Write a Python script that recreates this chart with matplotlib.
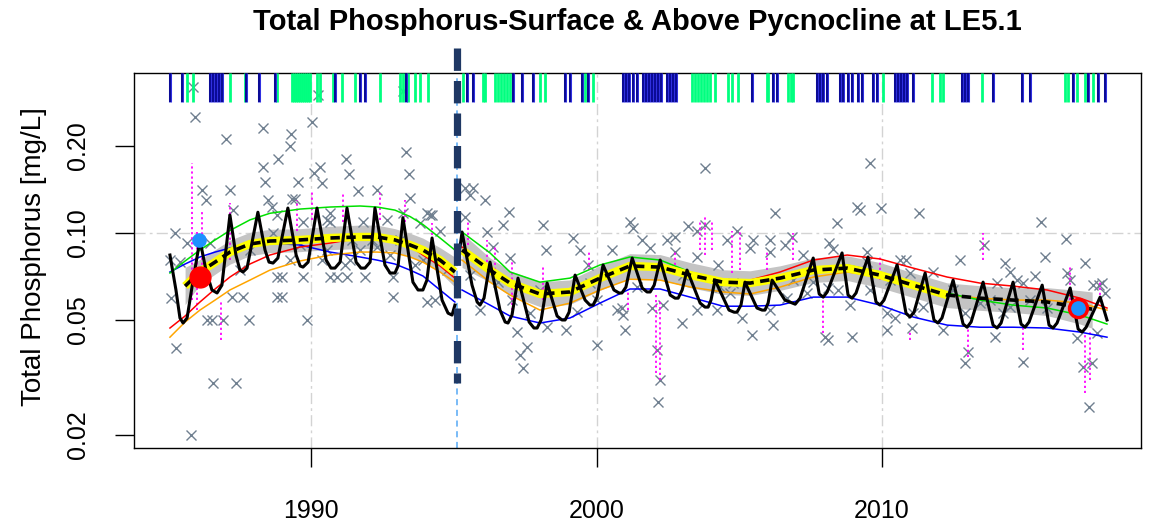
import matplotlib
matplotlib.use("Agg")
import matplotlib.pyplot as plt
from matplotlib.ticker import NullLocator

plt.rcParams['font.family'] = ['Liberation Sans', 'DejaVu Sans']

# ---- Data ----
title = "Total Phosphorus-Surface & Above Pycnocline at LE5.1"
y_label = "Total Phosphorus [mg/L]"
x_ticks = [1990, 2000, 2010]
y_ticks = [0.02, 0.05, 0.10, 0.20]
y_tick_labels = ["0.02", "0.05", "0.10", "0.20"]
x_range = (1983.80, 2019.07)
y_range = (0.01803, 0.3578)

break_year = 1995.11          # method change (thick dashed line)
break_span = (0.0302, 0.437)  # extent of the thick dashed line

# sample dates shown as rug at the top
rug_green = [1985.66, 1985.87, 1987.16, 1987.69, 1988.81, 1989.33, 1989.40, 1989.47,
             1989.54, 1989.61, 1989.68, 1989.75, 1989.82, 1989.89, 1989.96, 1990.21,
             1990.32, 1990.77, 1991.09, 1991.54, 1992.42, 1993.12, 1993.22, 1993.40,
             1993.64, 1993.82, 1994.10, 1995.32, 1996.02, 1996.09, 1996.44, 1996.55,
             1996.65, 1996.76, 1996.87, 1996.97, 1998.02, 1998.20, 1999.60, 1999.88,
             2003.35, 2003.45, 2003.56, 2003.66, 2003.77, 2003.87, 2003.98, 2004.15,
             2004.61, 2004.75, 2004.96, 2005.97, 2006.01, 2006.71, 2006.81, 2006.88,
             2010.04, 2011.75, 2012.03, 2012.14, 2013.50, 2016.41, 2016.52, 2016.83,
             2017.11, 2017.39]
rug_navy = [1985.06, 1985.48, 1986.46, 1986.57, 1986.67, 1986.78, 1986.88, 1987.72,
            1988.18, 1988.74, 1990.84, 1991.72, 1991.89, 1993.33, 1995.46, 1995.67,
            1997.08, 1997.39, 1997.78, 1998.90, 1999.07, 1999.49, 1999.70, 2000.93,
            2001.03, 2001.14, 2001.28, 2001.42, 2001.63, 2001.73, 2001.84, 2001.94,
            2002.05, 2002.15, 2002.26, 2002.47, 2002.57, 2002.68, 2002.78, 2005.45,
            2006.18, 2006.32, 2007.72, 2007.83, 2007.93, 2008.07, 2008.53, 2008.63,
            2008.81, 2008.95, 2009.16, 2009.30, 2009.69, 2009.82, 2010.46, 2010.56,
            2010.67, 2010.77, 2010.88, 2011.09, 2012.80, 2012.91, 2013.01, 2013.89,
            2014.90, 2015.18, 2016.69, 2017.22, 2017.57, 2017.81]

# observations (x markers)
obs_year = [1985.87, 1985.94, 1987.02, 1988.32, 1989.30, 1989.26, 1990.04, 1990.25, 1988.84, 1988.32,
            1988.39, 1989.55, 1990.11, 1990.32, 1990.39, 1991.23, 1991.33, 1991.65, 1992.31, 1993.33,
            1993.43, 1993.22, 1993.47, 1994.17, 1986.19, 1986.33, 1987.16, 1987.27, 1988.50, 1988.64,
            1989.34, 1989.44, 1985.24, 1985.66, 1989.72, 1990.67, 1991.82, 1992.66, 1993.82, 1988.67,
            1986.46, 1990.56, 1992.31, 1985.10, 1985.27, 1986.57, 1987.37, 1985.80, 1986.36, 1986.53,
            1986.92, 1987.83, 1989.86, 1988.81, 1988.98, 1989.72, 1990.67, 1990.91, 1991.26, 1991.89,
            1992.87, 1987.23, 1987.62, 1988.81, 1988.98, 1992.87, 1994.06, 1985.41, 1985.06, 1990.39,
            1991.37, 1991.44, 1992.14, 1993.92, 1994.06, 1993.22, 1990.56, 1990.67, 1988.81, 1994.52,
            1994.76, 1994.34, 1994.24, 1987.86, 1987.51, 1989.62, 1991.72, 1992.77, 1993.64, 1989.26,
            1991.19, 1993.12,
            1995.39, 1995.67, 1995.57, 1996.09, 1996.93, 1996.72, 1998.12, 1996.16, 1995.39, 1998.23,
            1999.17, 1999.42, 2000.54, 2001.17, 2001.27, 2001.59, 2001.87, 2002.46, 2002.75, 2003.20,
            2003.52, 2003.80, 2003.80, 2004.57, 2005.48, 2006.08, 2006.25, 2004.92, 1996.37, 1996.97,
            1996.55, 1995.92, 1997.04, 1997.22, 1997.57, 1997.32, 1997.43, 1998.27, 1998.93, 2000.01,
            2000.01, 2000.89, 2000.92, 2000.99, 2001.94, 2002.32, 2002.11, 2002.22, 2002.15, 2002.99,
            2004.21, 2005.09, 2005.44, 2006.18, 2004.25, 2003.52, 2003.03, 2002.75, 2004.78, 2005.38,
            2006.08, 1998.02, 1999.70, 2009.58, 2009.13, 2009.23, 2009.97, 2011.30, 2008.42, 2015.57,
            2016.45, 2006.85, 2008.14, 2008.28, 2006.60, 2009.47, 2013.57, 2015.71, 2007.23, 2012.73,
            2014.30, 2017.11, 2014.48, 2014.73, 2015.36, 2011.79, 2008.10, 2008.45, 2009.58, 2010.28,
            2010.63, 2010.84, 2008.87, 2006.67, 2007.37, 2010.17, 2010.45, 2011.05, 2011.09, 2011.44,
            2012.14, 2012.91, 2014.24, 2014.48, 2013.43, 2013.78, 2015.18, 2015.78, 2016.58, 2017.70,
            2017.81, 2017.59, 2008.00, 2008.10, 2008.94, 2010.17, 2013.01, 2012.91, 2013.95, 2014.93,
            2016.82, 2017.03, 2017.34, 2017.24, 2017.52, 2000.72, 1999.31, 1997.67, 1999.77, 2003.52,
            2004.67, 2001.42, 2006.08, 2004.32, 2006.88, 2007.58, 2009.47, 2010.98, 2012.48, 2014.02,
            2014.93, 2017.38, 2016.48, 1995.57]
obs_tp = [0.320, 0.252, 0.211, 0.231, 0.220, 0.200, 0.242, 0.300, 0.180, 0.169,
          0.150, 0.150, 0.161, 0.169, 0.149, 0.180, 0.160, 0.140, 0.141, 0.191,
          0.160, 0.310, 0.132, 0.115, 0.141, 0.130, 0.141, 0.120, 0.130, 0.123,
          0.131, 0.131, 0.100, 0.0923, 0.109, 0.109, 0.109, 0.111, 0.108, 0.100,
          0.0923, 0.0873, 0.0894, 0.0595, 0.0400, 0.0302, 0.0302, 0.0200, 0.0500, 0.0500,
          0.0500, 0.0500, 0.0500, 0.0704, 0.0704, 0.0704, 0.0704, 0.0704, 0.0704, 0.0704,
          0.0704, 0.0600, 0.0600, 0.0600, 0.0600, 0.0600, 0.0577, 0.0793, 0.0806, 0.0806,
          0.0806, 0.0946, 0.0946, 0.0806, 0.117, 0.117, 0.111, 0.117, 0.115, 0.102,
          0.0744, 0.0586, 0.115, 0.0873, 0.0744, 0.0909, 0.0873, 0.0839, 0.0775, 0.0806,
          0.0775, 0.0946,
          0.143, 0.143, 0.135, 0.130, 0.118, 0.107, 0.107, 0.101, 0.114, 0.0873,
          0.0961, 0.0873, 0.0873, 0.109, 0.104, 0.0946, 0.0887, 0.0946, 0.0969, 0.106,
          0.102, 0.107, 0.168, 0.0946, 0.0946, 0.0946, 0.117, 0.102, 0.0894, 0.0819,
          0.0676, 0.0541, 0.0586, 0.0454, 0.0403, 0.0378, 0.0341, 0.0472, 0.0461, 0.0586,
          0.0409, 0.0550, 0.0520, 0.0461, 0.0550, 0.0563, 0.0393, 0.0310, 0.0260, 0.0488,
          0.0541, 0.0508, 0.0443, 0.0480, 0.0775, 0.0826, 0.0715, 0.0859, 0.0671, 0.0887,
          0.0859, 0.0635, 0.0775, 0.175, 0.123, 0.120, 0.122, 0.117, 0.108, 0.109,
          0.0953, 0.0969, 0.0923, 0.0880, 0.0909, 0.0859, 0.0909, 0.0826, 0.0839, 0.0806,
          0.0787, 0.0787, 0.0733, 0.0687, 0.0710, 0.0733, 0.0645, 0.0635, 0.0635, 0.0687,
          0.0806, 0.0806, 0.0563, 0.0595, 0.0620, 0.0528, 0.0508, 0.0469, 0.0528, 0.0554,
          0.0461, 0.0528, 0.0528, 0.0554, 0.0572, 0.0586, 0.0586, 0.0550, 0.0687, 0.0671,
          0.0620, 0.0660, 0.0436, 0.0426, 0.0436, 0.0461, 0.0387, 0.0355, 0.0436, 0.0357,
          0.0433, 0.0343, 0.0355, 0.0250, 0.0450, 0.0541, 0.0532, 0.0528, 0.0671, 0.0541,
          0.0620, 0.0650, 0.0541, 0.0650, 0.0687, 0.0676, 0.0793, 0.0727, 0.0635, 0.0671,
          0.0671, 0.0660, 0.0727, 0.0715]

# magenta dotted spikes: year, low, high
spike_year = [1985.83, 1986.01, 1986.18, 1986.85, 1987.16, 1989.51, 1990.04, 1991.12, 1992.42,
              1993.29, 1994.24, 1995.50, 1996.17, 1996.45, 1997.04, 1998.13, 1999.74, 2001.10,
              2002.09, 2002.23, 2002.75, 2003.63, 2003.80, 2004.05, 2004.75, 2005.03, 2005.97,
              2006.88, 2007.93, 2009.93, 2010.98, 2013.01, 2013.54, 2014.94, 2016.59, 2017.11,
              2017.29, 2017.64]
spike_lo = [0.0586, 0.0541, 0.0687, 0.0426, 0.0806, 0.102, 0.111, 0.109, 0.111,
            0.109, 0.0946, 0.0909, 0.0762, 0.0715, 0.0541, 0.0586, 0.0744, 0.0541,
            0.0327, 0.0310, 0.0744, 0.0873, 0.0839, 0.0873, 0.0727, 0.0744, 0.0744,
            0.0806, 0.0450, 0.0687, 0.0426, 0.0372, 0.0806, 0.0393, 0.0586, 0.0279,
            0.0310, 0.0586]
spike_hi = [0.175, 0.102, 0.120, 0.0586, 0.127, 0.130, 0.141, 0.138, 0.138,
            0.130, 0.108, 0.111, 0.0946, 0.0909, 0.0806, 0.0762, 0.0873, 0.0635,
            0.0620, 0.0586, 0.0873, 0.111, 0.114, 0.109, 0.102, 0.102, 0.0873,
            0.100, 0.0586, 0.0839, 0.0461, 0.0472, 0.100, 0.0472, 0.0762, 0.0450,
            0.0461, 0.0687]

# trend lines, before the break
pre_years = [1985.06, 1985.59, 1986.11, 1986.64, 1987.16, 1987.86, 1988.56, 1989.61,
             1990.67, 1991.72, 1992.31, 1992.94, 1993.47, 1993.92, 1994.52, 1995.04]
pre_green = [0.0727, 0.0800, 0.0873, 0.0946, 0.102, 0.111, 0.117, 0.121,
             0.123, 0.124, 0.123, 0.120, 0.114, 0.107, 0.0961, 0.0873]
pre_red = [0.0469, 0.0516, 0.0577, 0.0640, 0.0704, 0.0781, 0.0839, 0.0894,
           0.0923, 0.0961, 0.0976, 0.0946, 0.0901, 0.0839, 0.0769, 0.0698]
pre_orange = [0.0436, 0.0492, 0.0541, 0.0586, 0.0635, 0.0687, 0.0744, 0.0800,
              0.0839, 0.0859, 0.0859, 0.0853, 0.0826, 0.0793, 0.0733, 0.0676]
pre_blue = [0.0733, 0.0781, 0.0826, 0.0859, 0.0887, 0.0916, 0.0923, 0.0909,
            0.0859, 0.0826, 0.0806, 0.0781, 0.0744, 0.0710, 0.0635, 0.0577]
pre_mean = [None, 0.0655, 0.0733, 0.0793, 0.0859, 0.0916, 0.0938, 0.0946,
            0.0961, 0.0969, 0.0969, 0.0946, 0.0909, 0.0873, 0.0806, 0.0733]
pre_upper = [None, 0.0760, 0.0810, 0.0875, 0.0945, 0.1005, 0.1030, 0.1035,
             0.1055, 0.1065, 0.1065, 0.1035, 0.0998, 0.0960, 0.0890, 0.0825]
pre_lower = [None, 0.0565, 0.0662, 0.0720, 0.0780, 0.0835, 0.0855, 0.0862,
             0.0876, 0.0883, 0.0883, 0.0862, 0.0828, 0.0795, 0.0730, 0.0650]

# trend lines, after the break
post_years = [1995.29, 1996.27, 1996.97, 1998.02, 1999.07, 2000.12, 2001.17, 2002.23,
              2003.28, 2004.43, 2005.38, 2006.43, 2007.59, 2008.78, 2009.93, 2011.09,
              2012.28, 2013.43, 2014.59, 2015.78, 2016.94, 2017.88]
post_green = [0.1008, 0.0853, 0.0733, 0.0676, 0.0698, 0.0775, 0.0826, 0.0806, 0.0733, 0.0687, 0.0687,
              0.0698, 0.0756, 0.0775, 0.0733, 0.0671, 0.0620, 0.0586, 0.0563, 0.0550, 0.0520, 0.0484]
post_red = [0.0894, 0.0762, 0.0660, 0.0600, 0.0615, 0.0687, 0.0775, 0.0762, 0.0727, 0.0676, 0.0687,
            0.0733, 0.0806, 0.0839, 0.0813, 0.0756, 0.0704, 0.0671, 0.0655, 0.0635, 0.0595, 0.0550]
post_orange = [0.0806, 0.0676, 0.0610, 0.0541, 0.0572, 0.0635, 0.0692, 0.0687, 0.0650, 0.0625, 0.0615,
               0.0650, 0.0704, 0.0733, 0.0704, 0.0650, 0.0610, 0.0595, 0.0586, 0.0586, 0.0572, 0.0541]
post_blue = [0.0635, 0.0563, 0.0516, 0.0488, 0.0508, 0.0572, 0.0640, 0.0640, 0.0600, 0.0558, 0.0558,
             0.0563, 0.0600, 0.0600, 0.0563, 0.0512, 0.0480, 0.0472, 0.0472, 0.0469, 0.0454, 0.0436]
post_mean_years = post_years[:-1] + [2017.36]
post_mean = [0.0873, 0.0744, 0.0671, 0.0615, 0.0625, 0.0698, 0.0769, 0.0762, 0.0715, 0.0676, 0.0671,
             0.0698, 0.0744, 0.0756, 0.0715, 0.0660, 0.0610, 0.0595, 0.0586, 0.0577, 0.0554, 0.0545]
post_upper = [0.1000, 0.0820, 0.0740, 0.0678, 0.0688, 0.0770, 0.0848, 0.0842, 0.0790, 0.0746, 0.0740,
              0.0770, 0.0820, 0.0834, 0.0790, 0.0728, 0.0672, 0.0657, 0.0647, 0.0647, 0.0632, 0.0625]
post_lower = [0.0760, 0.0675, 0.0608, 0.0556, 0.0566, 0.0633, 0.0697, 0.0690, 0.0647, 0.0613, 0.0608,
              0.0633, 0.0674, 0.0685, 0.0647, 0.0598, 0.0552, 0.0540, 0.0531, 0.0518, 0.0484, 0.0468]
yellow_end = 2012.7

# seasonal model (black line)
seas_pre_year = [1985.06, 1985.27, 1985.41, 1985.52, 1985.66, 1985.87, 1986.11, 1986.32, 1986.53, 1986.71,
                 1986.88, 1987.16, 1987.37, 1987.51, 1987.62, 1987.76, 1988.14, 1988.39, 1988.53, 1988.67,
                 1988.84, 1989.19, 1989.48, 1989.62, 1989.72, 1989.90, 1990.21, 1990.53, 1990.70, 1990.84,
                 1991.02, 1991.26, 1991.58, 1991.75, 1991.89, 1992.07, 1992.24, 1992.59, 1992.77, 1992.94,
                 1993.05, 1993.22, 1993.57, 1993.75, 1993.92, 1994.06, 1994.24, 1994.59, 1994.80, 1994.94,
                 1995.04]
seas_pre_tp = [0.0839, 0.0635, 0.0508, 0.0488, 0.0508, 0.0687, 0.0946, 0.0744, 0.0635, 0.0620,
               0.0660, 0.1154, 0.0839, 0.0744, 0.0733, 0.0756, 0.118, 0.0873, 0.0793, 0.0787,
               0.0819, 0.122, 0.0839, 0.0769, 0.0762, 0.0793, 0.122, 0.0806, 0.0756, 0.0756,
               0.0793, 0.122, 0.0793, 0.0756, 0.0756, 0.0793, 0.122, 0.0775, 0.0727, 0.0727,
               0.0769, 0.113, 0.0676, 0.0635, 0.0635, 0.0687, 0.0961, 0.0586, 0.0528, 0.0520,
               0.0563]
seas_post_year = [1995.15, 1995.29, 1995.64, 1995.82, 1995.92, 1996.06, 1996.27, 1996.62, 1996.80, 1996.90,
                  1997.04, 1997.25, 1997.64, 1997.81, 1997.92, 1998.06, 1998.27, 1998.62, 1998.79, 1998.90,
                  1999.04, 1999.25, 1999.60, 1999.77, 1999.88, 2000.02, 2000.23, 2000.61, 2000.79, 2000.89,
                  2001.03, 2001.25, 2001.60, 2001.77, 2001.88, 2002.02, 2002.23, 2002.58, 2002.75, 2002.86,
                  2003.00, 2003.17, 2003.63, 2003.80, 2003.91, 2004.01, 2004.15, 2004.64, 2004.82, 2004.92,
                  2005.06, 2005.20, 2005.62, 2005.80, 2005.90, 2006.01, 2006.15, 2006.60, 2006.96, 2007.13,
                  2007.59, 2007.80, 2007.94, 2008.08, 2008.60, 2008.81, 2008.95, 2009.09, 2009.51, 2009.79,
                  2009.93, 2010.07, 2010.53, 2010.84, 2010.98, 2011.12, 2011.51, 2011.82, 2011.96, 2012.10,
                  2012.49, 2012.84, 2012.98, 2013.12, 2013.54, 2013.89, 2014.03, 2014.17, 2014.59, 2014.87,
                  2015.01, 2015.15, 2015.61, 2015.85, 2015.99, 2016.13, 2016.59, 2016.87, 2017.01, 2017.15,
                  2017.64, 2017.88]
seas_post_tp = [0.0793, 0.1008, 0.0660, 0.0577, 0.0563, 0.0595, 0.0793, 0.0541, 0.0492, 0.0488,
                0.0520, 0.0698, 0.0492, 0.0469, 0.0469, 0.0500, 0.0671, 0.0516, 0.0500, 0.0500,
                0.0532, 0.0715, 0.0586, 0.0563, 0.0563, 0.0600, 0.0775, 0.0635, 0.0620, 0.0620,
                0.0650, 0.0819, 0.0645, 0.0625, 0.0625, 0.0660, 0.0806, 0.0610, 0.0595, 0.0595,
                0.0635, 0.0744, 0.0572, 0.0554, 0.0554, 0.0586, 0.0687, 0.0541, 0.0532, 0.0532,
                0.0563, 0.0676, 0.0550, 0.0541, 0.0541, 0.0572, 0.0687, 0.0586, 0.0567, 0.0595,
                0.0819, 0.0615, 0.0600, 0.0625, 0.0853, 0.0610, 0.0595, 0.0620, 0.0826, 0.0577,
                0.0563, 0.0586, 0.0775, 0.0528, 0.0512, 0.0532, 0.0727, 0.0500, 0.0488, 0.0508,
                0.0687, 0.0484, 0.0472, 0.0492, 0.0676, 0.0480, 0.0469, 0.0488, 0.0676, 0.0484,
                0.0472, 0.0492, 0.0660, 0.0480, 0.0469, 0.0488, 0.0645, 0.0465, 0.0454, 0.0472,
                0.0600, 0.0500]

# highlighted points
start_red = (1986.11, 0.0704)
start_blue = (1986.08, 0.0946)
end_point = (2016.87, 0.0550)


def ve_bieu_do():
    fig = plt.figure(figsize=(11.58, 5.26), dpi=100)
    ax = fig.add_axes([0.1157, 0.1483, 0.8696, 0.7129])
    ax.set_yscale('log')
    ax.set_xlim(*x_range)
    ax.set_ylim(*y_range)

    # grid
    grid_style = dict(color='#d3d3d3', lw=1.0, linestyle=(0, (8, 3, 2, 3)), zorder=0)
    for x in x_ticks:
        ax.axvline(x, **grid_style)
    ax.axhline(0.10, **grid_style)

    # thin light blue line at the break
    ax.axvline(break_year, color='#55a8f5', lw=1.1, linestyle=(0, (4, 3)), zorder=1)

    # confidence band
    band = '#c4c4c4'
    ax.fill_between(pre_years[1:], pre_lower[1:], pre_upper[1:], color=band, lw=0, zorder=1)
    ax.fill_between(post_mean_years, post_lower, post_upper, color=band, lw=0, zorder=1)

    # observations
    ax.plot(obs_year, obs_tp, linestyle='none', marker='x', ms=7.5, mew=1.0,
            color='#708090', zorder=2)

    # magenta dotted spikes
    ax.vlines(spike_year, spike_lo, spike_hi, colors='#ff00ff', lw=1.3,
              linestyles=(0, (1.2, 1.6)), zorder=3)

    # trend lines
    for yrs, g, r, o, b in [(pre_years, pre_green, pre_red, pre_orange, pre_blue),
                            (post_years, post_green, post_red, post_orange, post_blue)]:
        ax.plot(yrs, b, color='#0000ff', lw=1.1, zorder=4)
        ax.plot(yrs, o, color='#ffa500', lw=1.1, zorder=4)
        ax.plot(yrs, g, color='#00e000', lw=1.1, zorder=4)
        ax.plot(yrs, r, color='#ff0000', lw=1.1, zorder=4)

    # mean line: yellow underlay with black dashes
    ax.plot(pre_years[1:], pre_mean[1:], color='#ffff00', lw=6.0, solid_capstyle='butt', zorder=5)
    yel_x = [y for y in post_mean_years if y <= yellow_end]
    yel_v = [v for y, v in zip(post_mean_years, post_mean) if y <= yellow_end]
    ax.plot(yel_x, yel_v, color='#ffff00', lw=6.0, solid_capstyle='butt', zorder=5)
    ax.plot(pre_years[1:], pre_mean[1:], color='black', lw=2.6,
            linestyle=(0, (2.6, 1.8)), zorder=6)
    ax.plot(post_mean_years, post_mean, color='black', lw=2.6,
            linestyle=(0, (2.6, 1.8)), zorder=6)

    # seasonal model
    ax.plot(seas_pre_year, seas_pre_tp, color='black', lw=2.2, solid_joinstyle='round', zorder=7)
    ax.plot(seas_post_year, seas_post_tp, color='black', lw=2.2, solid_joinstyle='round', zorder=7)

    # thick dashed break line
    ax.plot([break_year, break_year], [break_span[1], break_span[0]], color='#1f3864',
            lw=5.2, linestyle=(0, (3.1, 1.4)), clip_on=False, zorder=8)

    # highlighted points
    ax.plot(*start_red, 'o', ms=15, color='#ff0000', mec='#ff0000', zorder=9)
    ax.plot(*start_blue, 'o', ms=9.5, color='#1e90ff', mec='#1e90ff', zorder=9)
    ax.plot(*end_point, 'o', ms=13, mfc='#1e90ff', mec='#ff0000', mew=2.4, zorder=9)

    # rug of sample dates
    tr = ax.get_xaxis_transform()
    ax.vlines(rug_green, 0.923, 1.0, transform=tr, colors='#00ff7f', lw=2.0, zorder=3)
    ax.vlines(rug_navy, 0.923, 1.0, transform=tr, colors='#3030e0', lw=2.2, zorder=3)
    ax.vlines(rug_navy, 0.923, 1.0, transform=tr, colors='#000080', lw=1.1, zorder=3)

    # axes and labels
    ax.set_xticks(x_ticks)
    ax.set_xticklabels([str(x) for x in x_ticks])
    ax.set_yticks(y_ticks)
    ax.set_yticklabels(y_tick_labels)
    ax.yaxis.set_minor_locator(NullLocator())
    ax.tick_params(axis='both', length=14, width=1.0, labelsize=18, direction='out')
    ax.tick_params(axis='x', pad=23)
    ax.tick_params(axis='y', pad=18)
    for lab in ax.get_yticklabels():
        lab.set_rotation(90)
        lab.set_va('center')
    for sp in ax.spines.values():
        sp.set_linewidth(1.0)

    ax.set_ylabel(y_label, fontsize=20)
    ax.yaxis.set_label_coords(-0.0864, 0.51)
    ax.set_title(title, fontsize=21, fontweight='bold', pad=31)

    fig.savefig('out.png', dpi=100)


if __name__ == "__main__":
    ve_bieu_do()
